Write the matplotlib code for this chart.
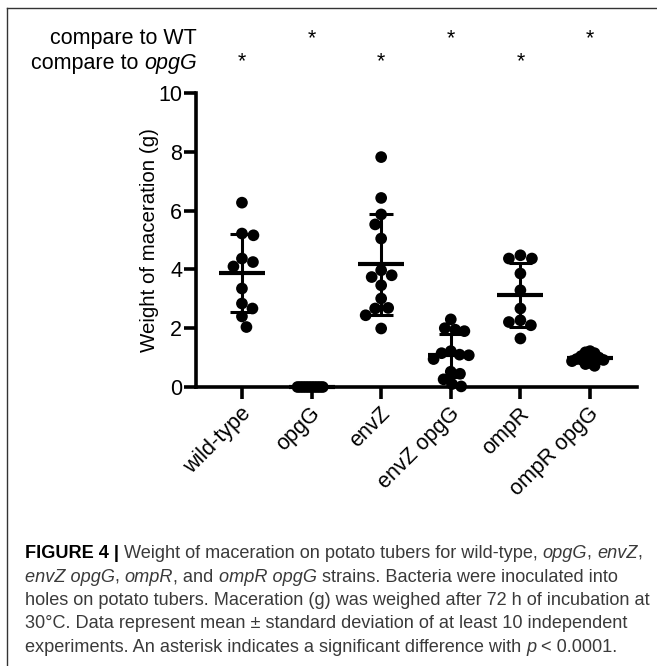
import matplotlib
matplotlib.use('Agg')
import matplotlib.pyplot as plt
import matplotlib.transforms as mtransforms
from matplotlib.lines import Line2D
import numpy as np

plt.rcParams['font.family'] = ['Liberation Sans', 'DejaVu Sans']

W, H, DPI = 657, 666, 100

# ---------------- data ----------------
categories = ['wild-type', 'opgG', 'envZ', 'envZ opgG', 'ompR', 'ompR opgG']
wild_type = [6.27, 5.22, 5.16, 4.37, 4.25, 4.10, 3.35, 2.84, 2.67, 2.40, 2.04]
opgG = [0, 0, 0, 0, 0, 0, 0, 0, 0, 0]
envZ = [7.82, 6.43, 5.87, 5.53, 5.05, 3.97, 3.80, 3.74, 3.46, 3.01, 2.69, 2.67, 2.44, 1.99]
envZ_opgG = [2.30, 2.00, 1.95, 1.90, 1.22, 1.15, 1.10, 1.08, 0.95, 0.52, 0.45, 0.26, 0.10, 0.02]
ompR = [4.48, 4.37, 4.37, 3.86, 3.29, 2.67, 2.27, 2.21, 2.10, 1.65]
ompR_opgG = [1.22, 1.18, 1.15, 1.05, 1.00, 0.95, 0.92, 0.88, 0.82, 0.78, 0.72]
groups = [wild_type, opgG, envZ, envZ_opgG, ompR, ompR_opgG]
star_vs_wt = [False, True, False, True, False, True]
star_vs_opgG = [True, False, True, False, True, False]
y_ticks = [0, 2, 4, 6, 8, 10]
row_labels = ['compare to WT', 'compare to opgG']

# ---------------- figure ----------------
fig = plt.figure(figsize=(W / DPI, H / DPI), dpi=DPI)
fig.patch.set_facecolor('white')

FS = 15.5
ax_l, ax_r, ax_y0, ax_y10 = 196, 637, 387, 93
ax = fig.add_axes([ax_l / W, 1 - ax_y0 / H, (ax_r - ax_l) / W, (ax_y0 - ax_y10) / H])
ax.set_xlim(-0.66, 5.675)
ax.set_ylim(0, 10)
for s in ['top', 'right']:
    ax.spines[s].set_visible(False)
for s in ['left', 'bottom']:
    ax.spines[s].set_linewidth(2.6)
    ax.spines[s].set_capstyle('projecting')
ax.tick_params(axis='both', direction='out', length=8.5, width=2.6, labelsize=FS, pad=1.5, colors='black')
ax.set_yticks(y_ticks)
ax.set_xticks(range(len(categories)))
ax.set_xticklabels(categories, rotation=45, ha='right', va='center', rotation_mode='anchor')
offset = mtransforms.ScaledTranslation(4 / 72, -7 / 72, fig.dpi_scale_trans)
for lbl in ax.get_xticklabels():
    lbl.set_transform(lbl.get_transform() + offset)
ax.set_ylabel('Weight of maceration (g)', fontsize=14.8)
ax.yaxis.set_label_coords((159 - ax_l) / (ax_r - ax_l), 0.5)

# pixel scales
px_x = (ax_r - ax_l) / (5.675 + 0.66)
px_y = (ax_y0 - ax_y10) / 10.0
diam = 11.7


def swarm(vals, max_half_px=15.0, thr=11.5):
    vals = np.asarray(vals, dtype=float)
    order = np.argsort(-vals, kind='stable')
    placed = []
    offs = np.zeros(len(vals))
    for n, i in enumerate(order):
        y = vals[i] * px_y
        found = None
        k = 0
        while found is None:
            cands = [0.0] if k == 0 else ([k * 0.5, -k * 0.5] if n % 2 == 0 else [-k * 0.5, k * 0.5])
            for c in cands:
                if all((c - px) ** 2 + (y - py) ** 2 >= thr ** 2 for px, py in placed):
                    found = c
                    break
            k += 1
        offs[i] = found
        placed.append((found, y))
    m = np.max(np.abs(offs))
    if m > max_half_px:
        offs = offs * max_half_px / m
    return offs / px_x


for i, vals in enumerate(groups):
    vals = np.asarray(vals, dtype=float)
    xo = swarm(vals, max_half_px=(14.0 if i == 1 else 18.0))
    ax.scatter(i + xo, vals, s=(diam * 72 / DPI) ** 2, color='black', edgecolors='none', zorder=3, clip_on=False)
    mean = vals.mean()
    sd = vals.std(ddof=1)
    ax.hlines(mean, i - 0.33, i + 0.33, color='black', lw=3.0, zorder=4, clip_on=False)
    if sd > 0:
        ax.vlines(i, mean - sd, mean + sd, color='black', lw=2.2, zorder=4, clip_on=False)
        ax.hlines([mean - sd, mean + sd], i - 0.17, i + 0.17, color='black', lw=2.2, zorder=4, clip_on=False)

renderer = fig.canvas.get_renderer()


def fx(px):
    return px / W


def fy(py):
    return 1 - py / H


def style_kw(st):
    if st == 'b':
        return dict(fontweight='bold', fontstyle='normal')
    if st == 'i':
        return dict(fontweight='normal', fontstyle='italic')
    return dict(fontweight='normal', fontstyle='normal')


def text_w(s, size, st):
    t1 = fig.text(0, 0, s + '|', fontsize=size, **style_kw(st))
    t2 = fig.text(0, 0, '|', fontsize=size, **style_kw(st))
    w = t1.get_window_extent(renderer).width - t2.get_window_extent(renderer).width
    t1.remove()
    t2.remove()
    return w


def draw_runs(x_px, y_px, runs, size, color, ha='left'):
    widths = [text_w(s, size, st) for s, st in runs]
    total = sum(widths)
    x = x_px - total if ha == 'right' else x_px
    for (s, st), w in zip(runs, widths):
        c = 'black' if st == 'b' else color
        fig.text(fx(x), fy(y_px), s, fontsize=size, color=c, va='baseline', ha='left', **style_kw(st))
        x += w
    return total


# header rows
draw_runs(197, 44, [(row_labels[0], 'r')], FS, 'black', ha='right')
draw_runs(197, 68.5, [('compare to ', 'r'), ('opgG', 'i')], FS, 'black', ha='right')
bt = mtransforms.blended_transform_factory(ax.transData, fig.transFigure)
for i in range(len(categories)):
    if star_vs_wt[i]:
        fig.text(i, fy(44), '*', transform=bt, ha='center', va='baseline', fontsize=FS)
    if star_vs_opgG[i]:
        fig.text(i, fy(67), '*', transform=bt, ha='center', va='baseline', fontsize=FS)

# frame (left and top edges)
fig.add_artist(Line2D([fx(7), fx(7)], [0, fy(8)], transform=fig.transFigure, color='#333333', lw=1.0))
fig.add_artist(Line2D([fx(7), 1], [fy(8), fy(8)], transform=fig.transFigure, color='#333333', lw=1.0))

# caption
cap_lines = [
    [('FIGURE 4 | ', 'b'), ('Weight of maceration on potato tubers for wild-type, ', 'r'), ('opgG', 'i'), (', ', 'r'),
     ('envZ', 'i'), (',', 'r')],
    [('envZ opgG', 'i'), (', ', 'r'), ('ompR', 'i'), (', and ', 'r'), ('ompR opgG', 'i'),
     (' strains. Bacteria were inoculated into', 'r')],
    [('holes on potato tubers. Maceration (g) was weighed after 72 h of incubation at', 'r')],
    [('30\u00b0C. Data represent mean \u00b1 standard deviation of at least 10 independent', 'r')],
    [('experiments. An asterisk indicates a significant difference with ', 'r'), ('p', 'i'), (' < 0.0001.', 'r')],
]
w12 = sum(text_w(s, 12, st) for s, st in cap_lines[0])
cap_size = 12 * 620 / w12
for k, runs in enumerate(cap_lines):
    draw_runs(25, 558 + 23.5 * k, runs, cap_size, '#3a3a3a')

fig.savefig('out.png', dpi=DPI)
